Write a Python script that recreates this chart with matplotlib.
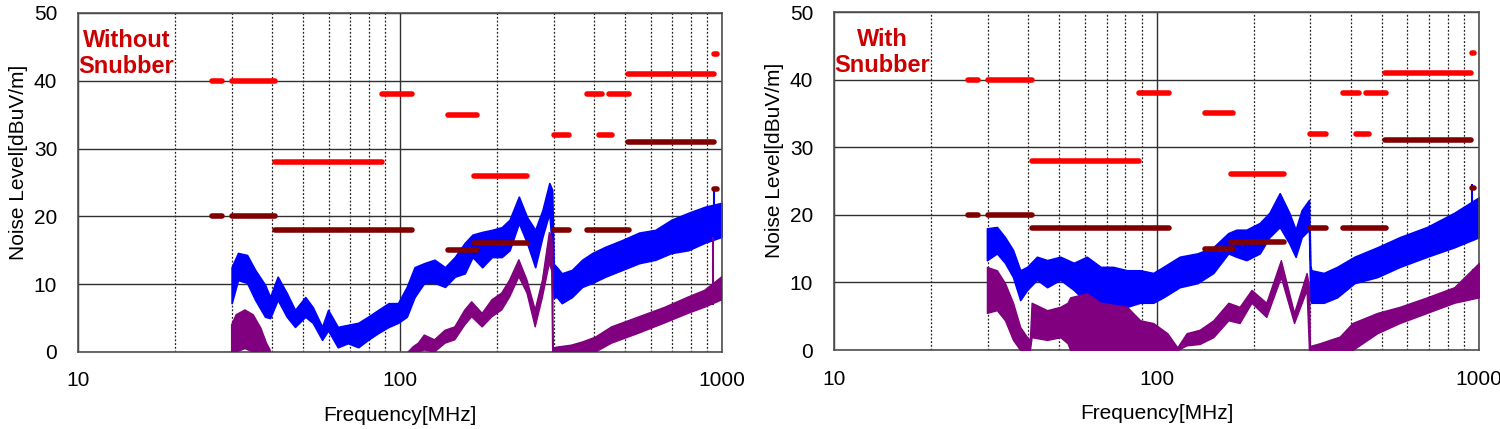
import numpy as np
from matplotlib import pyplot as plt
from matplotlib.ticker import FixedLocator, NullFormatter

plt.rcParams['font.family'] = ['Liberation Sans', 'DejaVu Sans']

# limit lines (same for both panels): start / stop frequency [MHz] and level [dBuV/m]
red_start = [26, 30, 41, 88, 141, 170, 300, 380, 415, 446, 510, 948]
red_stop = [28, 41, 88, 109, 173, 248, 335, 424, 455, 514, 944, 962]
red_level = [40, 40, 28, 38, 35, 26, 32, 38, 32, 38, 41, 44]

dark_start = [26, 30, 41, 141, 170, 300, 380, 510, 948]
dark_stop = [28, 41, 109, 173, 248, 335, 514, 944, 962]
dark_level = [20, 20, 18, 15, 16, 18, 18, 31, 24]

# without snubber - blue trace envelope
wo_blue_f = [30, 31.4, 33.5, 35.5, 38.1, 39.5, 41.7, 44.5, 47.2, 50.8,
             53.6, 57.3, 59.8, 64.1, 68.9, 74.2, 79.6, 85.6, 92.2, 98.6,
             105, 111, 119, 128, 138, 148, 159, 168, 180, 193,
             207, 219, 234, 248, 263, 277, 291, 297, 300, 307,
             318, 342, 368, 396, 434, 490, 553, 621, 697, 785,
             884, 1000]
wo_blue_hi = [12.5, 14.6, 14.3, 12.1, 9.9, 8.1, 11.1, 8.7, 6.2, 8.1,
              6.6, 3.7, 6.2, 3.7, 4.0, 4.3, 5.2, 6.2, 7.2, 7.2,
              9.6, 12.5, 13.1, 13.6, 12.5, 14.0, 16.1, 17.3, 17.7, 18.0,
              18.4, 19.5, 22.9, 19.9, 18.0, 20.9, 24.9, 23.9, 13.0, 12.5,
              11.6, 12.1, 13.6, 14.6, 15.5, 16.5, 17.6, 18.0, 19.5, 20.5,
              21.4, 22.0]
wo_blue_lo = [7.2, 10.6, 10.2, 7.7, 5.2, 5.0, 7.7, 5.2, 3.7, 5.2,
              4.3, 1.8, 3.2, 0.7, 1.3, 0.7, 1.8, 2.8, 3.7, 4.3,
              5.2, 8.1, 10.2, 10.2, 9.6, 11.1, 11.6, 14.0, 12.5, 14.0,
              14.0, 15.0, 19.0, 16.1, 12.5, 17.0, 20.5, 15.0, 8.0, 8.1,
              7.2, 8.1, 9.6, 10.2, 11.1, 12.1, 13.1, 13.6, 14.6, 15.0,
              16.1, 17.0]

# without snubber - purple trace envelope (nan = no trace)
wo_purple_f = [30, 31, 33, 35, 37, 38.5, 39.5, 40,
               106, 110, 114, 119, 128, 138, 148, 159, 167, 180,
               193, 207, 219, 234, 248, 263, 277, 291, 296, 298,
               299, 305, 340, 370, 405, 454, 553, 665, 785, 884, 1000]
wo_purple_hi = [4.0, 5.5, 6.2, 5.5, 3.5, 1.3, 0.3, np.nan,
                0.0, 0.8, 1.3, 2.5, 1.8, 3.2, 3.7, 6.2, 7.4, 5.7,
                7.7, 8.7, 10.6, 13.6, 10.6, 6.2, 10.6, 17.6, 17.0, 15.0,
                0.5, 0.7, 1.0, 1.5, 2.2, 3.7, 5.2, 6.6, 8.1, 9.1, 11.1]
wo_purple_lo = [0, 0, 0.5, 0, 0, 0, 0, np.nan,
                0, 0, 0, 0.3, 0, 1.3, 1.8, 4.0, 5.2, 3.7,
                5.2, 6.2, 8.1, 11.1, 8.7, 3.7, 8.1, 13.1, 12.0, 0,
                0, 0, 0, 0, 0, 1.3, 2.8, 4.3, 5.7, 6.6, 7.7]

# with snubber - blue trace envelope
w_blue_f = [29.8, 32, 33.9, 35.9, 37.8, 39.7, 42.6, 45.8, 50.3, 55.4,
            60.8, 67.1, 73.3, 81, 89, 97.7, 105, 118, 134, 150,
            167, 177, 190, 209, 224, 241, 258, 270, 282, 297,
            300, 302, 330, 363, 411, 484, 568, 690, 838, 1000]
w_blue_hi = [18.0, 18.2, 16.7, 14.8, 11.8, 12.3, 13.8, 13.3, 13.8, 12.9,
             13.8, 12.3, 12.3, 11.8, 11.8, 11.4, 12.3, 13.8, 14.3, 15.2,
             17.3, 17.8, 17.8, 18.8, 20.3, 23.2, 20.3, 17.8, 20.7, 22.2,
             12.5, 11.8, 11.4, 12.3, 13.8, 15.2, 16.7, 18.2, 20.3, 22.6]
w_blue_lo = [13.3, 14.3, 12.9, 10.8, 7.4, 8.9, 10.4, 9.3, 10.4, 8.9,
             7.0, 7.0, 6.4, 6.4, 7.0, 7.0, 7.8, 9.3, 9.9, 11.4,
             14.3, 13.8, 13.3, 14.3, 16.7, 18.2, 15.8, 13.8, 16.7, 17.8,
             7.5, 7.0, 7.0, 7.8, 9.9, 10.8, 12.3, 13.8, 15.2, 16.7]

# with snubber - purple trace envelope
w_purple_f = [29.8, 32, 33.9, 35.9, 37.8, 39.7, 40.5, 41, 45.8, 50.3,
              53, 54, 60.8, 67.1, 73.3, 81, 89, 97.7, 108, 116,
              124, 136, 150, 167, 181, 197, 219, 243, 267, 292,
              297, 299, 320, 370, 405, 484, 568, 690, 838, 1000]
w_purple_hi = [12.3, 11.8, 9.9, 7.0, 3.4, 1.9, 1.5, 7.0, 5.9, 6.4,
               7.0, 7.8, 8.4, 7.0, 6.7, 6.4, 4.4, 4.0, 2.5, 0.4,
               2.5, 3.0, 4.4, 7.0, 6.4, 8.9, 7.0, 13.3, 5.5, 11.4,
               9.5, 0.6, 1.0, 2.0, 4.0, 5.5, 6.4, 7.8, 9.3, 12.9]
w_purple_lo = [5.5, 5.9, 4.4, 1.5, 0, 0, 0, 1.9, 1.5, 1.9,
               1.0, 0, 0, 0, 0, 0, 0, 0, 0, 0,
               0.7, 0.9, 1.9, 4.4, 4.0, 7.0, 4.9, 10.8, 4.0, 8.9,
               0, 0, 0, 0, 0, 2.5, 4.0, 5.5, 7.0, 7.8]

# narrow spikes near 950 MHz: frequency, bottom, top
wo_spikes = [(945, 17.0, 24.0, 'blue'), (940, 7.0, 17.0, 'purple')]
w_spikes = [(950, 17.0, 24.5, 'blue'), (955, 8.0, 12.0, 'purple')]

panels = [
    ('Without\nSnubber', [0.052, 0.1795, 0.4293, 0.7905],
     (wo_blue_f, wo_blue_lo, wo_blue_hi), (wo_purple_f, wo_purple_lo, wo_purple_hi), wo_spikes),
    ('With\nSnubber', [0.556, 0.184, 0.430, 0.788],
     (w_blue_f, w_blue_lo, w_blue_hi), (w_purple_f, w_purple_lo, w_purple_hi), w_spikes),
]

BLUE = '#0000ff'
PURPLE = '#800080'

fig = plt.figure(figsize=(15, 4.29), dpi=100)

for title, rect, blue, purple, spikes in panels:
    ax = fig.add_axes(rect)
    ax.set_xscale('log')
    ax.set_xlim(10, 1000)
    ax.set_ylim(0, 50)

    # grid
    ax.xaxis.set_major_locator(FixedLocator([10, 100, 1000]))
    ax.xaxis.set_minor_locator(FixedLocator([20, 30, 40, 50, 60, 70, 80, 90,
                                             200, 300, 400, 500, 600, 700, 800, 900]))
    ax.xaxis.set_minor_formatter(NullFormatter())
    ax.set_xticklabels(['10', '100', '1000'])
    ax.set_yticks([0, 10, 20, 30, 40, 50])
    ax.grid(True, which='major', color='#303030', lw=1.0, ls='-')
    ax.grid(True, which='minor', axis='x', color='#202020', lw=0.9, ls=(0, (1.5, 1.5)))
    ax.set_axisbelow(True)
    ax.tick_params(which='both', length=0, labelsize=15)
    ax.tick_params(axis='x', pad=14)
    ax.tick_params(axis='y', pad=15)
    for s in ax.spines.values():
        s.set_color('#505050')
        s.set_linewidth(1.2)

    # noise traces
    f, lo, hi = blue
    ax.fill_between(f, lo, hi, color=BLUE, lw=1.2, edgecolor=BLUE, zorder=2)
    f, lo, hi = purple
    ax.fill_between(f, lo, hi, color=PURPLE, lw=1.0, edgecolor=PURPLE, zorder=3)
    for sf, b, t, c in spikes:
        ax.vlines(sf, b, t, color=BLUE if c == 'blue' else PURPLE, lw=1.5, zorder=3)

    # limits
    ax.hlines(red_level, red_start, red_stop, color='#ff0000', lw=4, capstyle='round', zorder=4)
    ax.hlines(dark_level, dark_start, dark_stop, color='#800000', lw=4, capstyle='round', zorder=4)

    ax.set_xlabel('Frequency[MHz]', fontsize=15, labelpad=11)
    ax.set_ylabel('Noise Level[dBuV/m]', fontsize=15, labelpad=4)
    ax.yaxis.set_label_coords(-0.078, 0.56)
    ax.text(0.075, 0.88, title, transform=ax.transAxes, ha='center', va='center',
            multialignment='center', color='#cc0000', fontsize=17, fontweight='bold',
            linespacing=1.2)

plt.savefig('out.png', dpi=100)
